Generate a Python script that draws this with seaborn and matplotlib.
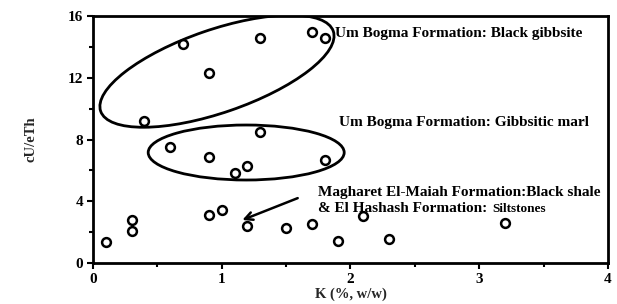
import numpy as np
import pandas as pd
import seaborn as sns
import matplotlib
matplotlib.use("Agg")
import matplotlib.pyplot as plt
from matplotlib.patches import Ellipse
import matplotlib.transforms as mtransforms

# Data
k_gibbsite = [0.4, 0.7, 0.9, 1.3, 1.7, 1.8]
u_gibbsite = [9.2, 14.2, 12.3, 14.6, 15.0, 14.6]

k_marl = [0.6, 0.9, 1.1, 1.2, 1.3, 1.8]
u_marl = [7.5, 6.9, 5.8, 6.3, 8.5, 6.7]

k_shale = [0.1, 0.3, 0.3, 0.9, 1.0, 1.2, 1.5, 1.7, 1.9, 2.1, 2.3, 3.2]
u_shale = [1.35, 2.8, 2.05, 3.1, 3.45, 2.4, 2.25, 2.5, 1.4, 3.05, 1.55, 2.6]

x_ticks = [0, 1, 2, 3, 4]
y_ticks = [0, 4, 8, 12, 16]
x_label = "K (%, w/w)"
y_label = "cU/eTh"

df = pd.DataFrame({
    "K": k_gibbsite + k_marl + k_shale,
    "U": u_gibbsite + u_marl + u_shale,
})

sns.set_style("ticks")
plt.rcParams["font.family"] = ["Liberation Serif", "DejaVu Serif"]

fig = plt.figure(figsize=(6.17, 3.04), dpi=100)
ax = fig.add_axes([0.1507, 0.1349, 0.8347, 0.8121])

sns.scatterplot(data=df, x="K", y="U", ax=ax, marker="o", s=40,
                facecolor="white", edgecolor="black", linewidth=1.8, zorder=3)

ax.set_xlim(0, 4)
ax.set_ylim(0, 16)
ax.set_xticks(x_ticks)
ax.set_yticks(y_ticks)
ax.set_xticks([0.5, 1.5, 2.5, 3.5], minor=True)
ax.set_yticks([2, 6, 10, 14], minor=True)
ax.set_xticklabels([str(t) for t in x_ticks], fontweight="bold", fontsize=11)
ax.set_yticklabels([str(t) for t in y_ticks], fontweight="bold", fontsize=11)
ax.tick_params(which="major", direction="out", length=4, width=1.5, pad=3, colors="black")
ax.tick_params(which="minor", direction="out", length=3, width=1.5, colors="black")
ax.set_xlabel(x_label, fontweight="bold", fontsize=10.5, labelpad=1)
ax.set_ylabel(y_label, fontweight="bold", fontsize=10.5, labelpad=22)
for sp in ax.spines.values():
    sp.set_visible(True)
    sp.set_linewidth(2)
    sp.set_color("black")

# Ellipses drawn in pixel units around a data-space centre
def pixel_ellipse(cx, cy, w, h, angle):
    tr = mtransforms.Affine2D().scale(fig.dpi / 100.0) + \
        mtransforms.ScaledTranslation(cx, cy, ax.transData)
    e = Ellipse((0, 0), w, h, angle=angle, fill=False, edgecolor="black",
                linewidth=2, transform=tr, zorder=2)
    ax.add_patch(e)

pixel_ellipse(0.963, 12.43, 246, 83, 19)
pixel_ellipse(1.19, 7.16, 196, 55, 0)

ax.annotate("", xy=(1.14, 2.72), xytext=(1.61, 4.27),
            arrowprops=dict(arrowstyle="->", color="black", lw=1.8,
                            mutation_scale=14))

tkw = dict(fontweight="bold", fontsize=11, ha="left", color="black")
ax.text(1.88, 14.9, "Um Bogma Formation: Black gibbsite", va="center", **tkw)
ax.text(1.91, 9.13, "Um Bogma Formation: Gibbsitic marl", va="center", **tkw)
ax.text(1.75, 4.6, "Magharet El-Maiah Formation:Black shale", va="center", **tkw)
ax.text(1.75, 3.3, "& El Hashash Formation:", va="baseline", **tkw)
ax.text(3.10, 3.3, "Siltstones", fontsize=9.5, fontweight="bold", va="baseline",
        ha="left", color="black")

fig.savefig("out.png", dpi=100, facecolor="white")
